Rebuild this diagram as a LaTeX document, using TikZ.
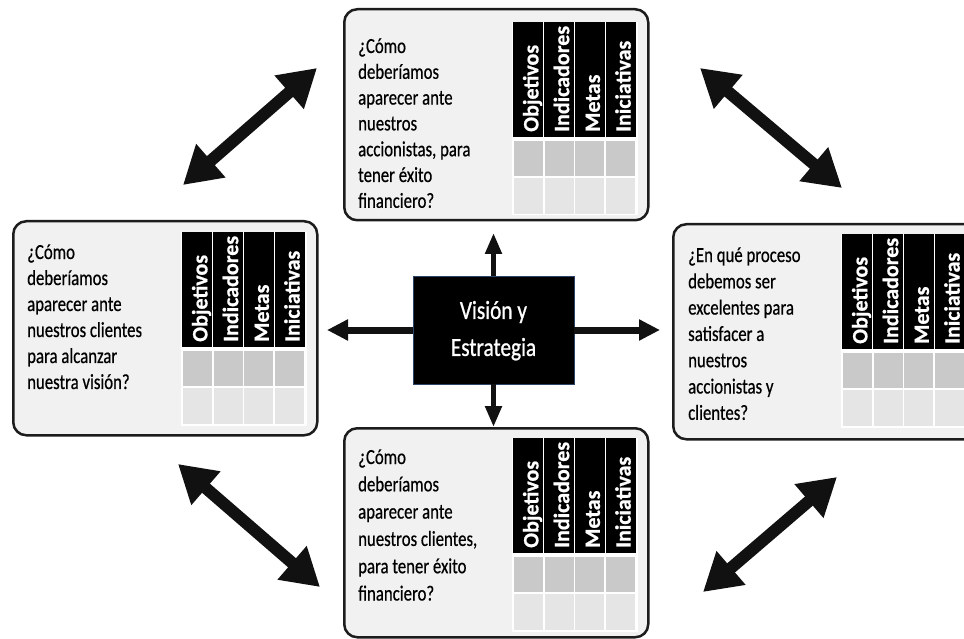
\documentclass[tikz,border=0pt]{standalone}
\usepackage{fontspec}
\setmainfont{Carlito}
\newfontface\bscbody{Carlito}[FakeBold=0.6]
\newfontface\bschead{Carlito Bold}[FakeBold=0.8]
\newfontface\bsctitle{Carlito}[FakeBold=1.0]
\usepackage{graphicx}
\usetikzlibrary{arrows.meta}

\definecolor{panelfill}{HTML}{F1F1F1}
\definecolor{panelline}{HTML}{1C1C1C}
\definecolor{rowdark}{HTML}{C9C9C9}
\definecolor{rowlight}{HTML}{E5E5E5}
\definecolor{visline}{HTML}{2B4468}
\definecolor{arrowink}{HTML}{111111}

% question text: narrow set, one tabular row per printed line
\newcommand\bscq[2]{\scalebox{0.78}[1]{\bscbody\fontsize{21.5}{#1}\selectfont\begin{tabular}[t]{@{}l@{}}#2\end{tabular}}}

\tikzset{
  panel/.style={draw=panelline, fill=panelfill, line width=2.5pt, rounded corners=13pt,
    inner sep=0pt, anchor=north west},
  question/.style={anchor=base west, inner sep=0pt, text=black},
  headlabel/.style={rotate=90, anchor=base west, inner sep=0pt, text=white,
    font=\bschead\fontsize{22}{22}\selectfont},
  visbox/.style={fill=black, draw=visline, line width=0.8pt, minimum width=161pt,
    minimum height=108pt, inner sep=0pt, text=white},
  bigarrow/.style={draw=arrowink, line width=12pt,
    {Triangle[width=42pt,length=37pt]}-{Triangle[width=42pt,length=37pt]}},
  varrow/.style={draw=arrowink, line width=5pt, -{Triangle[width=16pt,length=21pt]}},
  harrow/.style={draw=arrowink, line width=7pt, -{Triangle[width=20pt,length=21pt]}},
}

% four-column scorecard table: header with rotated labels, two empty rows
\newcommand\bsctable[3]{%
  \begin{scope}[shift={(#2,#3)}]
    \fill[white] (-1.5,0) rectangle (124.5,193.5);
    \fill[black] (0,0) rectangle (123,115);
    \foreach \k in {1,2,3}
      \draw[white, line width=1.2pt] (\k*30.75,0) -- (\k*30.75,115);
    \foreach \k in {0,...,3} {
      \fill[rowdark] (\k*30.75+0.8,119) rectangle (\k*30.75+29.95,154);
      \fill[rowlight] (\k*30.75+0.8,156) rectangle (\k*30.75+29.95,192);
    }
    \foreach \lab [count=\k from 0] in {Objetivos,Indicadores,Metas,Iniciativas}
      \node[headlabel] (#1-h\k) at (\k*30.75+25.4,110) {\lab};
  \end{scope}}

\begin{document}
\begin{tikzpicture}[x=1pt, y=-1pt]
  \useasboundingbox (0,0) rectangle (964,639);
  \clip (0,0) rectangle (964,639);

  % perspective panels
  \node[panel, minimum width=304pt, minimum height=211pt] (top) at (343,8) {};
  \node[panel, minimum width=304pt, minimum height=214pt] (left) at (12,220) {};
  \node[panel, minimum width=305pt, minimum height=215pt] (right) at (672,223) {};
  \node[panel, minimum width=304pt, minimum height=209pt] (bottom) at (343,427) {};

  \node[question] (topq) at (358,53) {\bscq{25.8}{¿Cómo\\deberíamos\\aparecer ante\\nuestros\\accionistas, para\\tener éxito\\financiero?}};
  \node[question] (leftq) at (27,259) {\bscq{26}{¿Cómo\\deberíamos\\aparecer ante\\nuestros clientes\\para alcanzar\\nuestra visión?}};
  \node[question] (rightq) at (688,262) {\bscq{26.3}{¿En qué proceso\\debemos ser\\excelentes para\\satisfacer a\\nuestros\\accionistas y\\clientes?}};
  \node[question] (bottomq) at (358,464) {\bscq{27.3}{¿Cómo\\deberíamos\\aparecer ante\\nuestros clientes,\\para tener éxito\\financiero?}};

  \bsctable{topt}{513}{22}
  \bsctable{leftt}{182}{232}
  \bsctable{rightt}{842}{234}
  \bsctable{bottomt}{513}{438}

  % centre block
  \node[visbox] (vis) at (493.5,330) {\scalebox{0.82}[1]{\bsctitle\fontsize{26}{37}\selectfont\begin{tabular}{@{}c@{}}Visión y\\Estrategia\end{tabular}}};

  \coordinate (upTip) at (493.5,233);
  \coordinate (leftTip) at (327,330);
  \coordinate (rightTip) at (660,330);
  \draw[varrow] (vis.north) -- (upTip);
  \draw[varrow] (vis.south) -- (vis.south |- bottom.north);
  \draw[harrow] (vis.west) -- (leftTip);
  \draw[harrow] (vis.east) -- (rightTip);

  % links between neighbouring perspectives
  \coordinate (tlA) at (183,185);
  \coordinate (tlB) at (317,68);
  \coordinate (trA) at (700,68);
  \coordinate (trB) at (842,188);
  \coordinate (blA) at (178,464);
  \coordinate (blB) at (320,587);
  \coordinate (brA) at (837,477);
  \coordinate (brB) at (703,592);
  \draw[bigarrow] (tlA) -- (tlB);
  \draw[bigarrow] (trA) -- (trB);
  \draw[bigarrow] (blA) -- (blB);
  \draw[bigarrow] (brA) -- (brB);
\end{tikzpicture}
\end{document}
